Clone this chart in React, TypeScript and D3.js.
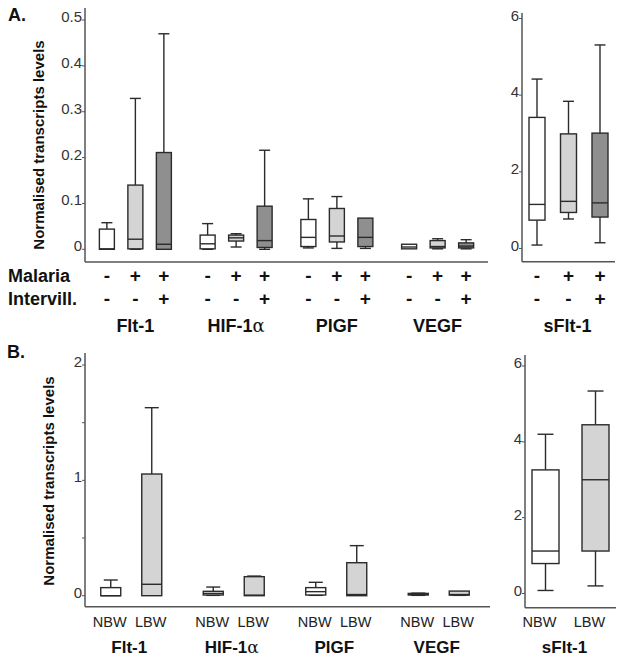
import React from "react";
import * as d3 from "d3";

// ---------- data ----------
const genes = ["Flt-1", "HIF-1α", "PlGF", "VEGF"];
const groupsA = ["none", "malaria", "malaria+intervillositis"];
const malariaSigns = ["-", "+", "+"];
const intervillSigns = ["-", "-", "+"];
const groupsB = ["NBW", "LBW"];

// each box: [min, q1, median, q3, max]
const flt1A = [[0, 0, 0.001, 0.044, 0.058], [0, 0.001, 0.022, 0.14, 0.329], [0, 0, 0.011, 0.211, 0.47]];
const hifA = [[0, 0.001, 0.012, 0.031, 0.056], [0.005, 0.018, 0.025, 0.031, 0.034], [0, 0.004, 0.019, 0.094, 0.216]];
const plgfA = [[0.003, 0.006, 0.026, 0.065, 0.11], [0.002, 0.016, 0.029, 0.089, 0.115], [0.002, 0.006, 0.026, 0.068, 0.068]];
const vegfA = [[0.001, 0.001, 0.005, 0.011, 0.011], [0.001, 0.003, 0.006, 0.019, 0.023], [0.001, 0.003, 0.007, 0.014, 0.021]];
const sflt1A = [[0.09, 0.74, 1.15, 3.42, 4.42], [0.77, 0.94, 1.23, 2.99, 3.84], [0.15, 0.82, 1.19, 3.01, 5.31]];

const flt1B = [[0, 0, 0, 0.07, 0.136], [0, 0, 0.099, 1.055, 1.63]];
const hifB = [[0.003, 0.006, 0.02, 0.038, 0.075], [0, 0, 0.005, 0.165, 0.17]];
const plgfB = [[0.003, 0.006, 0.035, 0.07, 0.116], [0, 0, 0.01, 0.286, 0.434]];
const vegfB = [[0.003, 0.006, 0.012, 0.02, 0.022], [0.003, 0.005, 0.01, 0.04, 0.04]];
const sflt1B = [[0.08, 0.79, 1.12, 3.26, 4.2], [0.2, 1.12, 3.0, 4.45, 5.34]];

const ticksAL = [0, 0.1, 0.2, 0.3, 0.4, 0.5];
const ticksAR = [0, 2, 4, 6];
const ticksBL = [0, 0.5, 1, 1.5, 2];
const labelsBL = [0, 1, 2];
const ticksBR = [0, 2, 4, 6];

const fillsA = ["#ffffff", "#d4d4d4", "#8f8f8f"];
const fillsB = ["#ffffff", "#d4d4d4"];

const FONT = "'Liberation Sans', Arial, sans-serif";
const STROKE = "#2b2b2b";
const AXIS = "#555555";

type Stats = number[];

function BoxMark({ cx, w, capW, y, s, fill }: { cx: number; w: number; capW: number; y: d3.ScaleLinear<number, number>; s: Stats; fill: string }) {
  const [mn, q1, md, q3, mx] = s;
  return (
    <g stroke={STROKE} strokeWidth={1.4}>
      {mx > q3 && (
        <>
          <line x1={cx} x2={cx} y1={y(mx)} y2={y(q3)} />
          <line x1={cx - capW / 2} x2={cx + capW / 2} y1={y(mx)} y2={y(mx)} />
        </>
      )}
      {mn < q1 && (
        <>
          <line x1={cx} x2={cx} y1={y(q1)} y2={y(mn)} />
          <line x1={cx - capW / 2} x2={cx + capW / 2} y1={y(mn)} y2={y(mn)} />
        </>
      )}
      <rect x={cx - w / 2} y={y(q3)} width={w} height={Math.max(0.5, y(q1) - y(q3))} fill={fill} />
      <line x1={cx - w / 2} x2={cx + w / 2} y1={y(md)} y2={y(md)} />
    </g>
  );
}

function YAxis({ x, top, bottom, right, y, ticks, labels, fmt }: { x: number; top: number; bottom: number; right: number; y: d3.ScaleLinear<number, number>; ticks: number[]; labels: number[]; fmt: (v: number) => string }) {
  return (
    <g>
      <line x1={x} x2={x} y1={top} y2={bottom} stroke={AXIS} strokeWidth={1.5} />
      <line x1={x} x2={right} y1={bottom} y2={bottom} stroke={AXIS} strokeWidth={1.5} />
      {ticks.map((t) => (
        <line key={"t" + t} x1={x - 3} x2={x} y1={y(t)} y2={y(t)} stroke={AXIS} strokeWidth={1} />
      ))}
      {labels.map((t) => (
        <text key={"l" + t} x={x - 3} y={y(t) + 2} textAnchor="end" fontSize={15} fill="#333" fontFamily={FONT}>
          {fmt(t)}
        </text>
      ))}
    </g>
  );
}

function GeneLabel({ x, y, name, size }: { x: number; y: number; name: string; size: number }) {
  if (name.endsWith("α")) {
    return (
      <text x={x} y={y} textAnchor="middle" fontSize={size} fontWeight="bold" fontFamily={FONT} fill="#111">
        {name.slice(0, -1)}
        <tspan fontWeight="normal" fontFamily="'DejaVu Serif', serif">α</tspan>
      </text>
    );
  }
  return (
    <text x={x} y={y} textAnchor="middle" fontSize={size} fontWeight="bold" fontFamily={FONT} fill="#111">
      {name}
    </text>
  );
}

export default function App() {
  const geneDataA = [flt1A, hifA, plgfA, vegfA];
  const geneDataB = [flt1B, hifB, plgfB, vegfB];

  // Panel A scales
  const yAL = d3.scaleLinear().domain([0, 0.5]).range([249.3, 20]);
  const yAR = d3.scaleLinear().domain([0, 6]).range([248.5, 18.5]);
  const xAL = d3.scaleBand<string>().domain(genes).range([85, 488]);
  const xAR = d3.scaleBand<string>().domain(["sFlt-1"]).range([522, 615]);
  const innerAL = d3.scalePoint<string>().domain(groupsA).range([-28.5, 28.5]);
  const innerAR = d3.scalePoint<string>().domain(groupsA).range([-31.5, 31.5]);

  // Panel B scales
  const yBL = d3.scaleLinear().domain([0, 2]).range([595.7, 365]);
  const yBR = d3.scaleLinear().domain([0, 6]).range([593.5, 366]);
  const xBL = d3.scaleBand<string>().domain(genes).range([80, 490]);
  const xBR = d3.scaleBand<string>().domain(["sFlt-1"]).range([525, 616]);
  const innerBL = d3.scalePoint<string>().domain(groupsB).range([-20.5, 20.5]);
  const innerBR = d3.scalePoint<string>().domain(groupsB).range([-25, 25]);

  const cA = (g: string) => (xAL(g) as number) + xAL.bandwidth() / 2;
  const cAR = (xAR("sFlt-1") as number) + xAR.bandwidth() / 2;
  const cB = (g: string) => (xBL(g) as number) + xBL.bandwidth() / 2;
  const cBR = (xBR("sFlt-1") as number) + xBR.bandwidth() / 2;

  const fmtA = (v: number) => (v === 0 ? "0" : d3.format(".1f")(v));
  const fmtInt = (v: number) => String(v);

  const signStyle = { fontSize: 19, fontWeight: "bold" as const, fontFamily: FONT, fill: "#111", textAnchor: "middle" as const };

  return (
    <div style={{ position: "fixed", left: 0, top: 0 }}>
      <svg width={624} height={661} style={{ display: "block", background: "#fff" }}>
        {/* Panel labels */}
        <text x={8} y={21} fontSize={18} fontWeight="bold" fontFamily={FONT} fill="#111">A.</text>
        <text x={7} y={358} fontSize={18} fontWeight="bold" fontFamily={FONT} fill="#111">B.</text>

        {/* Y titles */}
        <text transform="translate(44,145) rotate(-90)" textAnchor="middle" fontSize={15} fontWeight="bold" fontFamily={FONT} fill="#111">
          Normalised transcripts levels
        </text>
        <text transform="translate(54,481) rotate(-90)" textAnchor="middle" fontSize={15} fontWeight="bold" fontFamily={FONT} fill="#111">
          Normalised transcripts levels
        </text>

        {/* Panel A left */}
        <YAxis x={85} top={8} bottom={262} right={488} y={yAL} ticks={ticksAL} labels={ticksAL} fmt={fmtA} />
        {genes.map((g, gi) =>
          groupsA.map((grp, i) => (
            <BoxMark key={g + grp} cx={cA(g) + (innerAL(grp) as number)} w={15} capW={11} y={yAL} s={geneDataA[gi][i]} fill={fillsA[i]} />
          ))
        )}
        {/* Panel A right */}
        <YAxis x={522} top={13} bottom={261.7} right={615} y={yAR} ticks={ticksAR} labels={ticksAR} fmt={fmtInt} />
        {groupsA.map((grp, i) => (
          <BoxMark key={"sA" + grp} cx={cAR + (innerAR(grp) as number)} w={16} capW={11} y={yAR} s={sflt1A[i]} fill={fillsA[i]} />
        ))}

        {/* A row labels */}
        <text x={8} y={282} fontSize={18} fontWeight="bold" fontFamily={FONT} fill="#111">Malaria</text>
        <text x={8} y={305} fontSize={18} fontWeight="bold" fontFamily={FONT} fill="#111">Intervill.</text>
        {genes.map((g) =>
          groupsA.map((grp, i) => (
            <g key={"sg" + g + grp}>
              <text x={cA(g) + (innerAL(grp) as number)} y={282} {...signStyle}>{malariaSigns[i]}</text>
              <text x={cA(g) + (innerAL(grp) as number)} y={305} {...signStyle}>{intervillSigns[i]}</text>
            </g>
          ))
        )}
        {groupsA.map((grp, i) => (
          <g key={"sgr" + grp}>
            <text x={cAR + (innerAR(grp) as number)} y={282} {...signStyle}>{malariaSigns[i]}</text>
            <text x={cAR + (innerAR(grp) as number)} y={305} {...signStyle}>{intervillSigns[i]}</text>
          </g>
        ))}
        {genes.map((g) => (
          <GeneLabel key={"gA" + g} x={cA(g)} y={332} name={g} size={18} />
        ))}
        <GeneLabel x={cAR - 1} y={332} name="sFlt-1" size={18} />

        {/* Panel B left */}
        <YAxis x={85} top={353} bottom={606.7} right={490} y={yBL} ticks={ticksBL} labels={labelsBL} fmt={fmtInt} />
        {genes.map((g, gi) =>
          groupsB.map((grp, i) => (
            <BoxMark key={"B" + g + grp} cx={cB(g) + (innerBL(grp) as number)} w={20} capW={14} y={yBL} s={geneDataB[gi][i]} fill={fillsB[i]} />
          ))
        )}
        {/* Panel B right */}
        <YAxis x={525} top={355} bottom={607.7} right={616} y={yBR} ticks={ticksBR} labels={ticksBR} fmt={fmtInt} />
        {groupsB.map((grp, i) => (
          <BoxMark key={"sB" + grp} cx={cBR + (innerBR(grp) as number)} w={27} capW={16} y={yBR} s={sflt1B[i]} fill={fillsB[i]} />
        ))}

        {/* B labels */}
        {genes.map((g) =>
          groupsB.map((grp) => (
            <text key={"nb" + g + grp} x={cB(g) + (innerBL(grp) as number) - 1} y={627} textAnchor="middle" fontSize={14.5} fontFamily={FONT} fill="#222">
              {grp}
            </text>
          ))
        )}
        {groupsB.map((grp) => (
          <text key={"nbr" + grp} x={cBR + (innerBR(grp) as number) - 6} y={627} textAnchor="middle" fontSize={14.5} fontFamily={FONT} fill="#222">
            {grp}
          </text>
        ))}
        {genes.map((g) => (
          <GeneLabel key={"gB" + g} x={cB(g) - 2} y={653} name={g} size={17} />
        ))}
        <GeneLabel x={cBR - 6} y={653} name="sFlt-1" size={17} />
      </svg>
    </div>
  );
}
